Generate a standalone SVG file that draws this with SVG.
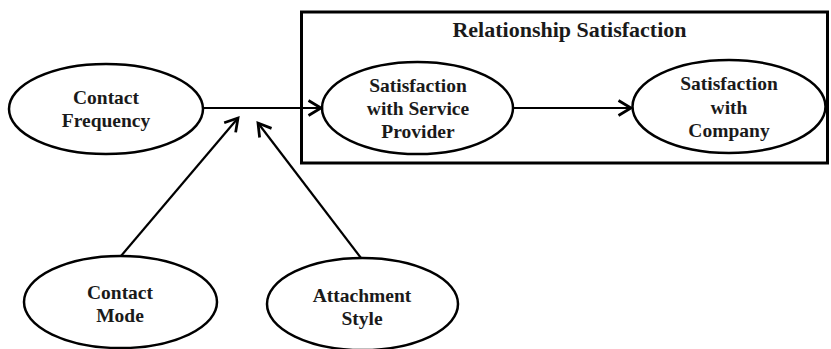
<svg xmlns="http://www.w3.org/2000/svg" width="831" height="349" viewBox="0 0 831 349">
<style>
.node{fill:#fff;stroke:#000;stroke-width:2.5}
.lbl{font-family:'Liberation Serif','Times New Roman','DejaVu Serif',serif;font-weight:700;font-size:19.5px;fill:#1a1a1a;text-anchor:middle}
.title{font-size:22px}
.edge{stroke:#000;stroke-width:2.2;fill:none}
</style>
<defs>
<marker id="arr" markerUnits="userSpaceOnUse" markerWidth="20" markerHeight="20" viewBox="-12 -8 14 16" refX="0" refY="0" orient="auto">
<path d="M-10,-6 L0,0 L-10,6" fill="none" stroke="#000" stroke-width="2.2"/>
</marker>
</defs>
<rect width="831" height="349" fill="#fff"/>
<g id="relationship-satisfaction">
<rect x="301.5" y="12" width="526" height="151" fill="none" stroke="#000" stroke-width="3"/>
<text class="lbl title" x="569.5" y="37">Relationship Satisfaction</text>
</g>
<g id="contact-frequency">
<ellipse class="node" cx="106" cy="109" rx="97" ry="45"/>
<text class="lbl" x="106" y="104">Contact</text>
<text class="lbl" x="106" y="127">Frequency</text>
</g>
<g id="sat-service-provider">
<ellipse class="node" cx="417.5" cy="108" rx="95.5" ry="46"/>
<text class="lbl" x="418" y="92">Satisfaction</text>
<text class="lbl" x="418" y="115">with Service</text>
<text class="lbl" x="418" y="138">Provider</text>
</g>
<g id="sat-company">
<ellipse class="node" cx="729" cy="106.5" rx="96.5" ry="46.5"/>
<text class="lbl" x="729" y="90">Satisfaction</text>
<text class="lbl" x="729" y="114">with</text>
<text class="lbl" x="729" y="137">Company</text>
</g>
<g id="contact-mode">
<ellipse class="node" cx="120.5" cy="302" rx="96.5" ry="46"/>
<text class="lbl" x="120" y="299">Contact</text>
<text class="lbl" x="120" y="322">Mode</text>
</g>
<g id="attachment-style">
<ellipse class="node" cx="362.5" cy="304" rx="95.5" ry="46"/>
<text class="lbl" x="362" y="302">Attachment</text>
<text class="lbl" x="362" y="325">Style</text>
</g>
<g id="connectors">
<line class="edge" x1="203" y1="108" x2="321" y2="108" marker-end="url(#arr)"/>
<line class="edge" x1="513" y1="108" x2="631" y2="108" marker-end="url(#arr)"/>
<line class="edge" x1="121" y1="256" x2="238" y2="118" marker-end="url(#arr)"/>
<line class="edge" x1="361" y1="258" x2="258" y2="123" marker-end="url(#arr)"/>
</g>
</svg>
